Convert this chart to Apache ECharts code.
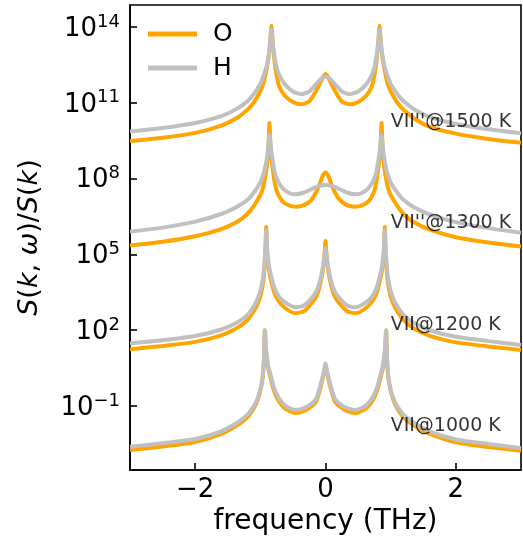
<!DOCTYPE html>
<html>
<head>
<meta charset="utf-8">
<script src="https://cdn.jsdelivr.net/npm/echarts@6/dist/echarts.min.js"></script>
<style>
html, body { margin: 0; padding: 0; background: #fff; }
#chart { width: 523px; height: 548px; }
</style>
</head>
<body>
<div id="chart"></div>
<script>
"use strict";
// values are log10 of S(k,w)/S(k)
const x1500 = [-3, -2.5, -2, -1.6, -1.35, -1.2, -1.1, -1, -0.95, -0.91, -0.88, -0.86, -0.845, -0.83, -0.815, -0.8, -0.78, -0.75, -0.71, -0.63, -0.5, -0.37, -0.25, -0.15, -0.08, -0.04, -0.015,
    0, 0.015, 0.04, 0.08, 0.15, 0.25, 0.37, 0.5, 0.63, 0.71, 0.75, 0.78, 0.8, 0.815, 0.83, 0.845, 0.86, 0.88, 0.91, 0.95, 1, 1.1, 1.2, 1.35, 1.6, 2, 2.5, 3];
const o1500 = [9.49, 9.62, 9.81, 10.1, 10.42, 10.72, 11.02, 11.45, 11.8, 12.25, 12.7, 13.1, 13.55, 14.05, 13.6, 13.1, 12.6, 12.1, 11.65, 11.3, 11.03, 10.94, 11.05, 11.45, 11.8, 12.0, 12.1,
    12.14, 12.1, 12.0, 11.8, 11.45, 11.05, 10.94, 11.03, 11.3, 11.65, 12.1, 12.6, 13.1, 13.6, 14.05, 13.55, 13.1, 12.7, 12.25, 11.8, 11.45, 11.02, 10.72, 10.4, 10.05, 9.78, 9.57, 9.42];
const h1500 = [9.86, 10.0, 10.2, 10.47, 10.78, 11.06, 11.35, 11.75, 12.08, 12.4, 12.75, 13.1, 13.5, 13.9, 13.5, 13.15, 12.8, 12.4, 12.1, 11.75, 11.45, 11.34, 11.45, 11.72, 11.92, 12.0, 12.03,
    12.04, 12.03, 12.0, 11.92, 11.72, 11.45, 11.34, 11.45, 11.75, 12.1, 12.4, 12.8, 13.15, 13.5, 13.9, 13.5, 13.1, 12.75, 12.4, 12.08, 11.75, 11.35, 11.06, 10.76, 10.44, 10.16, 9.95, 9.79];

const x1300 = [-3, -2.5, -2, -1.6, -1.35, -1.2, -1.1, -1, -0.97, -0.94, -0.91, -0.89, -0.875, -0.86, -0.845, -0.83, -0.81, -0.78, -0.74, -0.66, -0.55, -0.45, -0.33, -0.22, -0.14, -0.08, -0.04, -0.015,
    0, 0.015, 0.04, 0.08, 0.14, 0.22, 0.33, 0.45, 0.55, 0.66, 0.74, 0.78, 0.81, 0.83, 0.845, 0.86, 0.875, 0.89, 0.91, 0.94, 0.97, 1, 1.1, 1.2, 1.35, 1.6, 2, 2.5, 3];
const o1300 = [5.35, 5.5, 5.72, 6.0, 6.3, 6.6, 6.92, 7.35, 7.55, 7.85, 8.3, 8.75, 9.3, 10.2, 9.3, 8.8, 8.4, 7.85, 7.45, 7.1, 6.93, 6.89, 6.95, 7.15, 7.48, 7.85, 8.13, 8.22,
    8.24, 8.22, 8.13, 7.85, 7.48, 7.15, 6.95, 6.89, 6.93, 7.1, 7.45, 7.85, 8.4, 8.8, 9.3, 10.2, 9.3, 8.75, 8.3, 7.85, 7.55, 7.35, 6.92, 6.6, 6.28, 5.98, 5.68, 5.47, 5.31];
const h1300 = [5.9, 6.06, 6.3, 6.6, 6.9, 7.15, 7.45, 7.85, 8.05, 8.3, 8.65, 9.0, 9.4, 9.73, 9.4, 9.05, 8.7, 8.25, 7.95, 7.62, 7.42, 7.38, 7.45, 7.58, 7.67, 7.72, 7.74, 7.75,
    7.75, 7.75, 7.74, 7.72, 7.67, 7.58, 7.45, 7.38, 7.42, 7.62, 7.95, 8.25, 8.7, 9.05, 9.4, 9.73, 9.4, 9.0, 8.65, 8.3, 8.05, 7.85, 7.45, 7.15, 6.88, 6.58, 6.28, 6.04, 5.86];

const x1200 = [-3, -2.5, -2, -1.6, -1.35, -1.2, -1.1, -1.04, -1, -0.97, -0.95, -0.935, -0.922, -0.91, -0.898, -0.885, -0.87, -0.85, -0.82, -0.78, -0.72, -0.62, -0.47, -0.33, -0.22, -0.14, -0.08, -0.04, -0.015,
    0, 0.015, 0.04, 0.08, 0.14, 0.22, 0.33, 0.47, 0.62, 0.72, 0.78, 0.82, 0.85, 0.87, 0.885, 0.898, 0.91, 0.922, 0.935, 0.95, 0.97, 1, 1.04, 1.1, 1.2, 1.35, 1.6, 2, 2.5, 3];
const o1200 = [1.25, 1.38, 1.54, 1.8, 2.1, 2.4, 2.75, 3.05, 3.35, 3.7, 4.05, 4.5, 5.1, 6.09, 5.2, 4.75, 4.45, 4.15, 3.8, 3.45, 3.15, 2.88, 2.67, 2.75, 3.05, 3.35, 3.85, 4.4, 5.0,
    5.53, 5.0, 4.4, 3.85, 3.35, 3.05, 2.75, 2.67, 2.88, 3.15, 3.45, 3.8, 4.15, 4.45, 4.75, 5.2, 6.09, 5.1, 4.5, 4.05, 3.7, 3.35, 3.05, 2.75, 2.4, 2.08, 1.78, 1.52, 1.36, 1.22];
const h1200 = [1.48, 1.6, 1.77, 2.03, 2.32, 2.6, 2.95, 3.25, 3.55, 3.9, 4.25, 4.7, 5.25, 5.97, 5.3, 4.9, 4.6, 4.32, 4.0, 3.65, 3.35, 3.1, 2.91, 2.98, 3.25, 3.55, 4.0, 4.5, 4.95,
    5.25, 4.95, 4.5, 4.0, 3.55, 3.25, 2.98, 2.91, 3.1, 3.35, 3.65, 4.0, 4.32, 4.6, 4.9, 5.3, 5.97, 5.25, 4.7, 4.25, 3.9, 3.55, 3.25, 2.95, 2.6, 2.3, 2.0, 1.74, 1.57, 1.42];

const x1000 = [-3, -2.5, -2, -1.6, -1.35, -1.2, -1.1, -1.05, -1.01, -0.98, -0.96, -0.945, -0.93, -0.915, -0.9, -0.88, -0.85, -0.8, -0.73, -0.62, -0.47, -0.33, -0.22, -0.14, -0.08, -0.04, -0.015,
    0, 0.015, 0.04, 0.08, 0.14, 0.22, 0.33, 0.47, 0.62, 0.73, 0.8, 0.85, 0.88, 0.9, 0.915, 0.93, 0.945, 0.96, 0.98, 1.01, 1.05, 1.1, 1.2, 1.35, 1.6, 2, 2.5, 3];
const o1000 = [-2.74, -2.6, -2.42, -2.1, -1.75, -1.45, -1.08, -0.82, -0.5, -0.15, 0.25, 0.8, 2.0, 1.25, 0.88, 0.5, 0.18, -0.32, -0.75, -1.1, -1.27, -1.2, -1.02, -0.8, -0.3, 0.12, 0.45,
    0.62, 0.45, 0.12, -0.3, -0.8, -1.02, -1.2, -1.27, -1.1, -0.75, -0.32, 0.18, 0.5, 0.88, 1.25, 2.0, 0.8, 0.25, -0.15, -0.5, -0.82, -1.08, -1.45, -1.75, -2.1, -2.43, -2.62, -2.77];
const h1000 = [-2.61, -2.47, -2.3, -2.0, -1.65, -1.35, -1.0, -0.75, -0.45, -0.1, 0.3, 0.85, 2.0, 1.3, 0.95, 0.6, 0.3, -0.2, -0.62, -0.98, -1.16, -1.08, -0.92, -0.69, -0.2, 0.2, 0.5,
    0.69, 0.5, 0.2, -0.2, -0.69, -0.92, -1.08, -1.16, -0.98, -0.62, -0.2, 0.3, 0.6, 0.95, 1.3, 2.0, 0.85, 0.3, -0.1, -0.45, -0.75, -1.0, -1.35, -1.65, -2.0, -2.32, -2.5, -2.67];

const labelNames = ["VII''@1500 K", "VII''@1300 K", "VII@1200 K", "VII@1000 K"];
const labelX = [1.0, 1.0, 1.0, 1.0];
const labelY = [10.24, 6.24, 2.21, -1.79];
const yTickExp = [-1, 2, 5, 8, 11, 14];
const xTicks = [-2, 0, 2];

const font = 'DejaVu Sans';
const orange = '#FFA500';
const grey = '#C0C0C0';

const toPoints = (xs, logs) => xs.map((x, i) => [x, Math.pow(10, logs[i])]);

const groups = [
    [x1500, o1500, h1500],
    [x1300, o1300, h1300],
    [x1200, o1200, h1200],
    [x1000, o1000, h1000]
];

let series = [];
groups.forEach(g => {
    [['O', g[1], orange], ['H', g[2], grey]].forEach(s => {
        series.push({
            name: s[0],
            type: 'line',
            data: toPoints(g[0], s[1]),
            showSymbol: false,
            symbol: 'none',
            smooth: 0.2,
            color: s[2],
            lineStyle: { color: s[2], width: 4 },
            clip: true,
            silent: true
        });
    });
});

series.push({
    name: 'labels',
    type: 'scatter',
    symbolSize: 0,
    silent: true,
    data: labelNames.map((n, i) => [labelX[i], Math.pow(10, labelY[i]), n]),
    label: {
        show: true,
        position: 'right',
        distance: 0,
        formatter: p => p.data[2],
        fontFamily: font,
        fontSize: 19,
        color: '#000'
    },
    z: 10
});

let chart = echarts.init(document.getElementById('chart'));
chart.setOption({
    animation: false,
    backgroundColor: '#fff',
    grid: {
        left: 130, right: 2, top: 5, bottom: 78,
        show: true, borderColor: '#000', borderWidth: 1.6,
        containLabel: false
    },
    legend: {
        data: ['O', 'H'],
        orient: 'vertical',
        left: 148,
        top: 19,
        padding: 0,
        itemGap: 4,
        itemWidth: 49,
        itemHeight: 5,
        icon: 'rect',
        textStyle: { fontFamily: font, fontSize: 25, color: '#000', lineHeight: 30, padding: [0, 0, 0, 11] }
    },
    xAxis: {
        type: 'value',
        min: -3,
        max: 3,
        name: 'frequency (THz)',
        nameLocation: 'middle',
        nameGap: 38,
        nameTextStyle: { fontFamily: font, fontSize: 28, color: '#000' },
        axisLine: { show: true, onZero: false, lineStyle: { color: '#000', width: 1.6 } },
        axisTick: { show: true, inside: true, length: 7, lineStyle: { color: '#000', width: 1.6 }, customValues: xTicks },
        axisLabel: {
            customValues: xTicks,
            margin: 7,
            fontFamily: font, fontSize: 26, color: '#000',
            formatter: v => String(v).replace('-', '\u2212')
        },
        splitLine: { show: false }
    },
    yAxis: {
        type: 'log',
        logBase: 10,
        min: Math.pow(10, -3.53),
        max: Math.pow(10, 14.87),
        name: '{i|S}({i|k}, {i|\u03c9})/{i|S}({i|k})',
        nameLocation: 'middle',
        nameGap: 87,
        nameTextStyle: {
            fontFamily: font, fontSize: 27, color: '#000',
            rich: { i: { fontFamily: font, fontSize: 27, fontStyle: 'italic', color: '#000' } }
        },
        axisLine: { show: true, onZero: false, lineStyle: { color: '#000', width: 1.6 } },
        axisTick: { show: true, inside: true, length: 7, lineStyle: { color: '#000', width: 1.6 }, customValues: yTickExp.map(e => Math.pow(10, e)) },
        minorTick: { show: false },
        axisLabel: {
            customValues: yTickExp.map(e => Math.pow(10, e)),
            margin: 10,
            formatter: v => {
                const e = Math.round(Math.log10(v));
                return '{b|10}{s|' + String(e).replace('-', '\u2212') + '}';
            },
            rich: {
                b: { fontFamily: font, fontSize: 26, color: '#000', verticalAlign: 'bottom', lineHeight: 30 },
                s: { fontFamily: font, fontSize: 18, color: '#000', verticalAlign: 'bottom', lineHeight: 30, padding: [0, 0, 11, 0] }
            }
        },
        splitLine: { show: false }
    },
    series: series
});
</script>
</body>
</html>
